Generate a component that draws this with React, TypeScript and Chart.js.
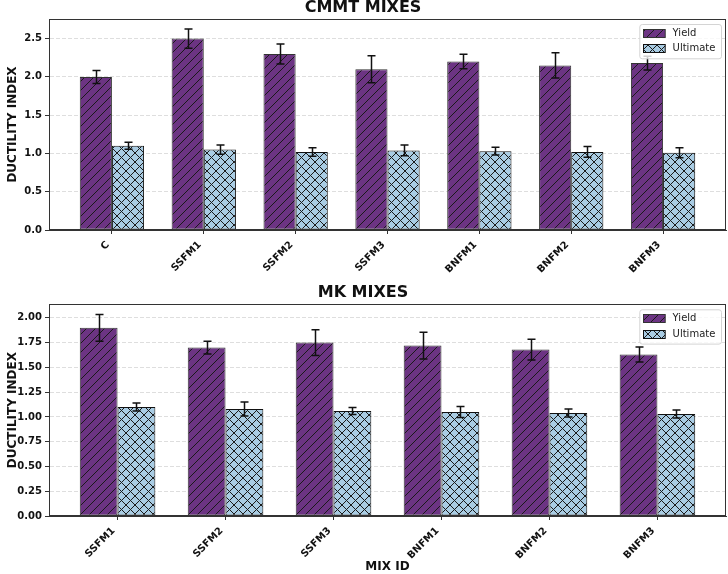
import React, { useEffect, useRef } from 'react';
import { Chart, registerables } from 'chart.js';

Chart.register(...registerables);
Chart.defaults.font.family = "'DejaVu Sans', sans-serif";

// ---- CMMT mixes ----
const cmmtMixes = ['C', 'SSFM1', 'SSFM2', 'SSFM3', 'BNFM1', 'BNFM2', 'BNFM3'];
const cmmtYield = [2.0, 2.5, 2.3, 2.1, 2.2, 2.15, 2.18];
const cmmtYieldErr = [0.085, 0.125, 0.13, 0.175, 0.095, 0.165, 0.09];
const cmmtUltimate = [1.1, 1.05, 1.02, 1.04, 1.03, 1.02, 1.01];
const cmmtUltimateErr = [0.045, 0.06, 0.055, 0.07, 0.05, 0.07, 0.065];
const cmmtTicks = [0, 0.5, 1.0, 1.5, 2.0, 2.5];

// ---- MK mixes ----
const mkMixes = ['SSFM1', 'SSFM2', 'SSFM3', 'BNFM1', 'BNFM2', 'BNFM3'];
const mkYield = [1.9, 1.7, 1.75, 1.72, 1.68, 1.63];
const mkYieldErr = [0.135, 0.065, 0.13, 0.135, 0.105, 0.075];
const mkUltimate = [1.1, 1.08, 1.06, 1.05, 1.04, 1.03];
const mkUltimateErr = [0.04, 0.07, 0.035, 0.055, 0.04, 0.04];
const mkTicks = [0, 0.25, 0.5, 0.75, 1.0, 1.25, 1.5, 1.75, 2.0];

const YIELD_COLOR = '#6C3483';
const ULT_COLOR = '#A9CCE3';
const HATCH_COLOR = '#1a1a1a';

function makeHatch(base: string, cross: boolean): CanvasPattern {
  const s = 9;
  const c = document.createElement('canvas');
  c.width = s;
  c.height = s;
  const g = c.getContext('2d') as CanvasRenderingContext2D;
  g.fillStyle = base;
  g.fillRect(0, 0, s, s);
  g.strokeStyle = HATCH_COLOR;
  g.lineWidth = 1;
  g.beginPath();
  for (let k = -1; k <= 1; k++) {
    g.moveTo(k * s, s);
    g.lineTo(k * s + s, 0);
    if (cross) {
      g.moveTo(k * s, 0);
      g.lineTo(k * s + s, s);
    }
  }
  g.stroke();
  return g.createPattern(c, 'repeat') as CanvasPattern;
}

type PanelProps = {
  title: string;
  mixes: string[];
  yieldVals: number[];
  yieldErr: number[];
  ultVals: number[];
  ultErr: number[];
  ticks: number[];
  decimals: number;
  height: number;
  plotBottom: number;
  titlePad: { top: number; bottom: number };
  xTitle?: string;
};

function Panel(props: PanelProps) {
  const ref = useRef<HTMLCanvasElement | null>(null);

  useEffect(() => {
    const canvas = ref.current;
    if (!canvas) return;
    const { mixes, yieldVals, yieldErr, ultVals, ultErr, ticks, decimals } = props;
    const yieldHatch = makeHatch(YIELD_COLOR, false);
    const ultHatch = makeHatch(ULT_COLOR, true);

    const n = mixes.length;
    const span = n - 1 + 0.7;
    const xMin = -0.35 - 0.05 * span;
    const xMax = n - 1 + 0.35 + 0.05 * span;
    const tops = [
      ...yieldVals.map((v, i) => v + yieldErr[i]),
      ...ultVals.map((v, i) => v + ultErr[i]),
    ];
    const yMax = Math.max(...tops) * 1.05;
    const errs = [yieldErr, ultErr];

    const errorBars = {
      id: 'errorBars',
      afterDatasetsDraw(chart: any) {
        const ctx = chart.ctx;
        const ys = chart.scales.y;
        ctx.save();
        ctx.strokeStyle = '#111';
        ctx.lineWidth = 1.5;
        chart.data.datasets.forEach((ds: any, di: number) => {
          const meta = chart.getDatasetMeta(di);
          meta.data.forEach((bar: any, i: number) => {
            const v = ds.data[i].y;
            const e = errs[di][i];
            const x = Math.round(bar.x) + 0.5;
            const y1 = ys.getPixelForValue(v + e);
            const y2 = ys.getPixelForValue(v - e);
            ctx.beginPath();
            ctx.moveTo(x, y1);
            ctx.lineTo(x, y2);
            ctx.moveTo(x - 4, y1);
            ctx.lineTo(x + 4, y1);
            ctx.moveTo(x - 4, y2);
            ctx.lineTo(x + 4, y2);
            ctx.stroke();
          });
        });
        ctx.restore();
      },
    };

    const frameAndLegend = {
      id: 'frameAndLegend',
      afterDraw(chart: any) {
        const ctx = chart.ctx;
        const a = chart.chartArea;
        ctx.save();
        ctx.strokeStyle = '#333';
        ctx.lineWidth = 1;
        ctx.strokeRect(Math.round(a.left) + 0.5, Math.round(a.top) + 0.5,
          Math.round(a.right - a.left) - 1, Math.round(a.bottom - a.top) - 1);

        // legend box, upper right
        const w = 81.7;
        const h = 34.3;
        const bx = a.right - 5 - w;
        const by = a.top + 5;
        ctx.beginPath();
        ctx.roundRect(bx + 0.5, by + 0.5, w, h, 2.5);
        ctx.fillStyle = 'rgba(255,255,255,0.8)';
        ctx.fill();
        ctx.strokeStyle = '#d4d4d4';
        ctx.stroke();
        const rows = [
          { label: chart.data.datasets[0].label, fill: yieldHatch, edge: '#333', cy: by + 8.7 },
          { label: chart.data.datasets[1].label, fill: ultHatch, edge: '#111', cy: by + 24.3 },
        ];
        ctx.font = "10px 'DejaVu Sans'";
        ctx.textBaseline = 'middle';
        ctx.textAlign = 'left';
        rows.forEach((r) => {
          const px = Math.round(bx + 3.3) + 0.5;
          const py = Math.round(r.cy - 4) + 0.5;
          ctx.fillStyle = r.fill;
          ctx.fillRect(px, py, 21.7, 8);
          ctx.strokeStyle = r.edge;
          ctx.strokeRect(px, py, 21.7, 8);
          ctx.fillStyle = '#222';
          ctx.fillText(r.label, bx + 33.3, r.cy + 0.5);
        });
        ctx.restore();
      },
    };

    const chart = new Chart(canvas, {
      type: 'bar',
      data: {
        datasets: [
          {
            label: 'Yield',
            data: yieldVals.map((y, i) => ({ x: i, y })),
            backgroundColor: yieldHatch,
            borderColor: '#333',
            borderWidth: 1,
            borderSkipped: false,
            categoryPercentage: 0.7,
            barPercentage: 1.0,
          },
          {
            label: 'Ultimate',
            data: ultVals.map((y, i) => ({ x: i, y })),
            backgroundColor: ultHatch,
            borderColor: '#111',
            borderWidth: 1,
            borderSkipped: false,
            categoryPercentage: 0.7,
            barPercentage: 1.0,
          },
        ],
      } as any,
      options: {
        responsive: false,
        animation: false,
        devicePixelRatio: 1,
        layout: { padding: { left: 0, right: 2, top: 0, bottom: 0 } },
        plugins: {
          legend: { display: false },
          tooltip: { enabled: false },
          title: {
            display: true,
            text: props.title,
            color: '#111',
            font: { size: 16, weight: 'bold', lineHeight: 1 },
            padding: props.titlePad,
          },
        },
        scales: {
          x: {
            type: 'linear',
            offset: false,
            min: xMin,
            max: xMax,
            afterBuildTicks: (scale: any) => {
              scale.ticks = mixes.map((_, i) => ({ value: i }));
            },
            afterFit: (scale: any) => {
              scale.height = props.height - props.plotBottom;
            },
            ticks: {
              autoSkip: false,
              minRotation: 45,
              maxRotation: 45,
              padding: 5,
              labelOffset: -4,
              color: '#111',
              font: { size: 10, weight: 'bold' },
              callback: (v: any) => mixes[v] ?? '',
            },
            grid: {
              display: true,
              offset: false,
              drawOnChartArea: false,
              drawTicks: true,
              tickLength: 4,
              tickColor: '#333',
              tickWidth: 1,
            },
            border: { display: true, color: '#333', width: 1 },
            title: props.xTitle
              ? {
                  display: true,
                  text: props.xTitle,
                  color: '#111',
                  font: { size: 12, weight: 'bold' },
                  padding: { top: 0, bottom: 0 },
                }
              : { display: false },
          },
          y: {
            min: 0,
            max: yMax,
            afterBuildTicks: (scale: any) => {
              scale.ticks = ticks.map((t) => ({ value: t }));
            },
            afterFit: (scale: any) => {
              scale.width = 49;
            },
            ticks: {
              padding: 3,
              color: '#111',
              font: { size: 10, weight: 'bold' },
              callback: (v: any) => Number(v).toFixed(decimals),
            },
            grid: {
              color: 'rgba(160,160,160,0.35)',
              lineWidth: 1,
              tickLength: 4,
              tickColor: '#333',
              tickWidth: 1,
              tickBorderDash: [],
            },
            border: { display: true, color: '#333', width: 1, dash: [4, 2] },
            title: {
              display: true,
              text: 'DUCTILITY INDEX',
              color: '#111',
              font: { size: 12, weight: 'bold' },
              padding: { top: 5.5, bottom: 0 },
            },
          },
        },
      } as any,
      plugins: [errorBars, frameAndLegend],
    });
    return () => chart.destroy();
  }, []);

  return <canvas ref={ref} width={728} height={props.height} style={{ display: 'block' }} />;
}

export default function App() {
  return (
    <div style={{ position: 'absolute', left: 0, top: 0, width: 728, height: 574, background: '#fff' }}>
      <Panel
        title="CMMT MIXES"
        mixes={cmmtMixes}
        yieldVals={cmmtYield}
        yieldErr={cmmtYieldErr}
        ultVals={cmmtUltimate}
        ultErr={cmmtUltimateErr}
        ticks={cmmtTicks}
        decimals={1}
        height={280}
        plotBottom={230}
        titlePad={{ top: 0, bottom: 3 }}
      />
      <Panel
        title="MK MIXES"
        mixes={mkMixes}
        yieldVals={mkYield}
        yieldErr={mkYieldErr}
        ultVals={mkUltimate}
        ultErr={mkUltimateErr}
        ticks={mkTicks}
        decimals={2}
        height={294}
        plotBottom={236}
        titlePad={{ top: 5, bottom: 3.3 }}
        xTitle="MIX ID"
      />
    </div>
  );
}
